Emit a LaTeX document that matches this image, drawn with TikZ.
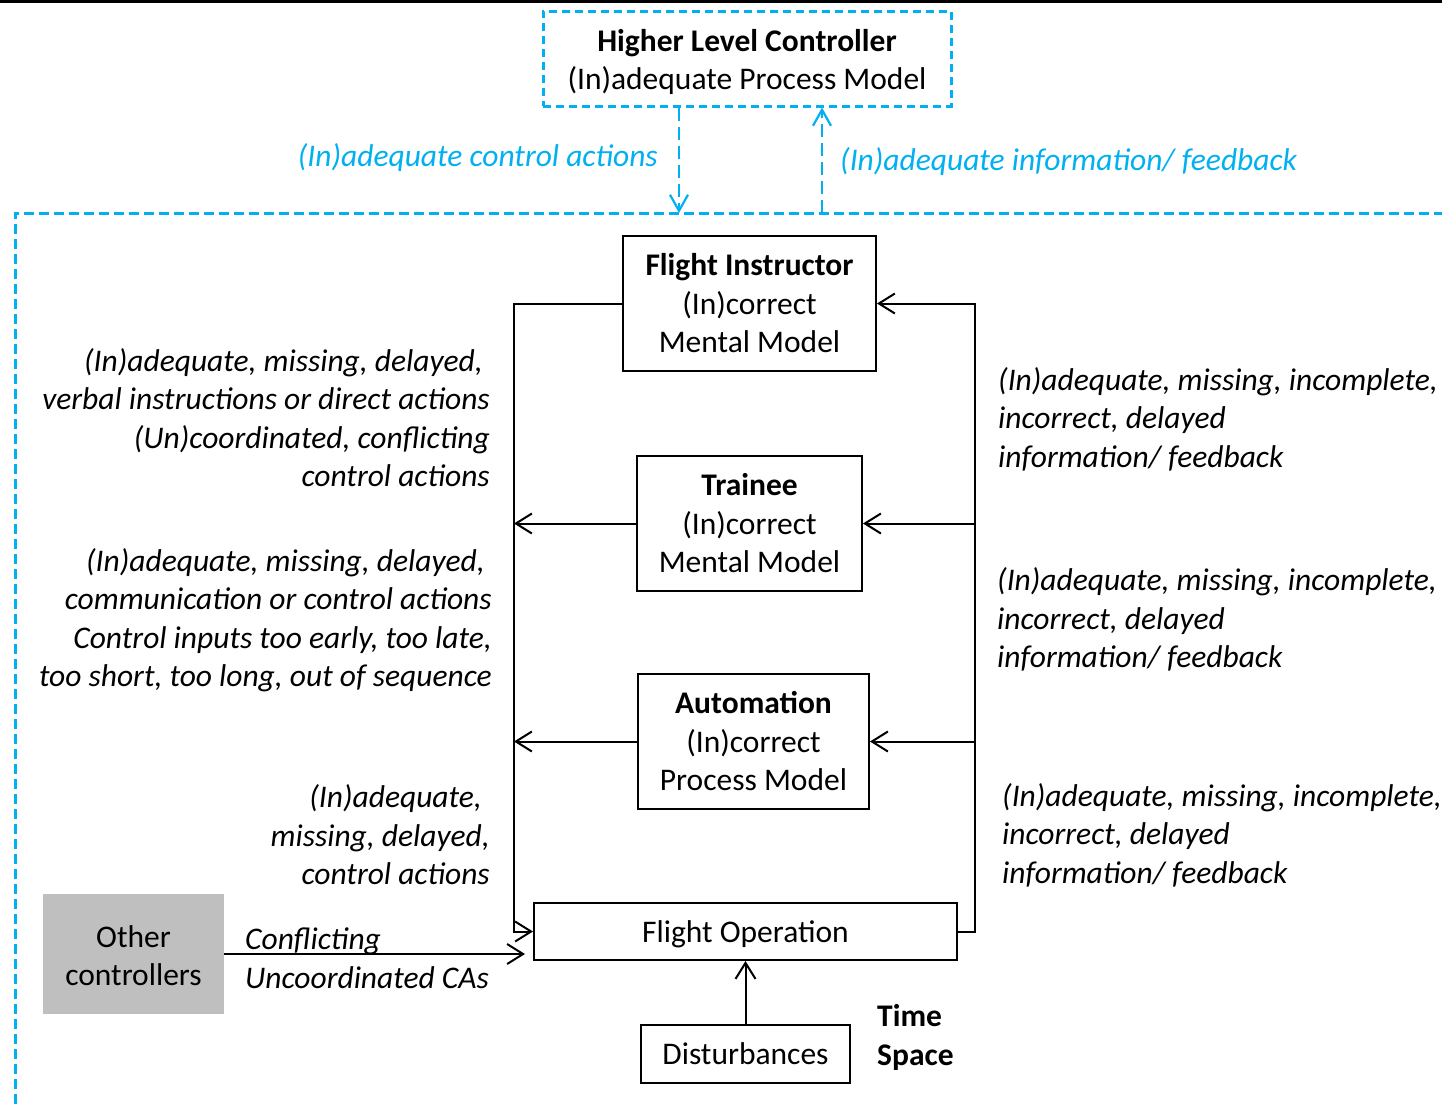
\documentclass[tikz,border=0pt]{standalone}
\usepackage{fontspec}
\setmainfont{Carlito}
\usetikzlibrary{arrows.meta}
\definecolor{cy}{HTML}{00B0F0}
\definecolor{gr}{HTML}{BFBFBF}
\begin{document}
\begin{tikzpicture}[x=1pt,y=-1pt,
  every node/.style={font=\fontsize{31.5}{38.5}\selectfont, inner sep=0pt},
  box/.style={draw, line width=2pt, align=center},
  arr/.style={line width=2pt, -{Straight Barb[length=16pt,width=20pt,line width=2pt]}},
  cybox/.style={draw=cy, line width=3pt, dash pattern=on 8pt off 5pt, align=center},
  cyline/.style={draw=cy, line width=3pt, dash pattern=on 10pt off 5pt},
  cyarr/.style={draw=cy, line width=2.2pt, dash pattern=on 13pt off 6pt, -{Straight Barb[length=16pt,width=18pt,line width=2.2pt]}},
  lab/.style={font=\fontsize{31.5}{38.5}\selectfont\itshape},
  cylab/.style={font=\fontsize{31.5}{38.5}\selectfont\itshape, text=cy}
]
\useasboundingbox (0,0) rectangle (1442,1104);
% top rule
\draw[line width=3pt] (0,1.5) -- (1442,1.5);

% higher level controller
\node[cybox, minimum width=408pt, minimum height=95pt, text height=68pt] (hlc) at (747,58.5)
  {\textbf{Higher Level Controller}\\(In)adequate Process Model};

% outer dashed boundary
\coordinate (ob1) at (679,213);
\coordinate (ob2) at (822,213);
\draw[cyline] (15,1104) -- (15,213) -- (1442,213);

\draw[cyarr] (hlc.south -| ob1) -- (ob1);
\draw[cyarr] (ob2) -- (hlc.south -| ob2);
\node[cylab, anchor=east] (cal) at (658,158) {(In)adequate control actions};
\node[cylab, anchor=west] (cil) at (840,162) {(In)adequate information/ feedback};

% main boxes
\node[box, minimum width=253pt, minimum height=135pt] (fi) at (749.5,303.5)
  {\textbf{Flight Instructor}\\(In)correct\\Mental Model};
\node[box, minimum width=225pt, minimum height=135pt] (tr) at (749.5,523.5)
  {\textbf{Trainee}\\(In)correct\\Mental Model};
\node[box, minimum width=231pt, minimum height=135pt] (au) at (753.5,741.5)
  {\textbf{Automation}\\(In)correct\\Process Model};
\node[box, minimum width=423pt, minimum height=57pt, text height=28pt] (fo) at (745.5,931.5)
  {Flight Operation};
\node[box, minimum width=209pt, minimum height=58pt] (di) at (745.5,1054)
  {Disturbances};
\node[fill=gr, minimum width=181pt, minimum height=120pt, align=center, text height=64pt] (oc) at (133.5,954)
  {Other\\controllers};
\node[anchor=west, align=left, font=\fontsize{31.5}{38.5}\selectfont\bfseries] (ts) at (877,1037.5)
  {Time\\Space};

% buses
\coordinate (lb) at (514,0);
\coordinate (rb) at (975,0);
\coordinate (octip) at (525,954);

\draw[arr] (fi.west) -- (fi.west -| lb) -- (fo.west -| lb) -- (fo.west);
\draw[arr] (tr.west) -- (tr.west -| lb);
\draw[arr] (au.west) -- (au.west -| lb);
\draw[arr] (fo.east) -- (fo.east -| rb) -- (fi.east -| rb) -- (fi.east);
\draw[arr] (tr.east -| rb) -- (tr.east);
\draw[arr] (au.east -| rb) -- (au.east);
\draw[arr] (oc.east) -- (octip);
\draw[arr] (di.north) -- (di.north |- fo.south);

% labels left
\node[lab, anchor=east, align=right] (l1) at (490,417.5)
  {(In)adequate, missing, delayed,\hspace*{7pt}\\verbal instructions or direct actions\\(Un)coordinated, conflicting\\control actions};
\node[lab, anchor=east, align=right] (l2) at (492,620)
  {(In)adequate, missing, delayed,\hspace*{7pt}\\communication or control actions\\Control inputs too early, too late,\hspace*{7pt}\\too short, too long, out of sequence};
\node[lab, anchor=east, align=right] (l3) at (490,835)
  {(In)adequate,\hspace*{8pt}\\missing, delayed,\hspace*{8pt}\\control actions};
\node[lab, anchor=west, align=left] (l4) at (245,958)
  {Conflicting\\Uncoordinated CAs};

% labels right
\node[lab, anchor=west, align=left] (r1) at (998,419)
  {(In)adequate, missing, incomplete,\\incorrect, delayed\\information/ feedback};
\node[lab, anchor=west, align=left] (r2) at (997,619.5)
  {(In)adequate, missing, incomplete,\\incorrect, delayed\\information/ feedback};
\node[lab, anchor=west, align=left] (r3) at (1002,835)
  {(In)adequate, missing, incomplete,\\incorrect, delayed\\information/ feedback};
\end{tikzpicture}
\end{document}
